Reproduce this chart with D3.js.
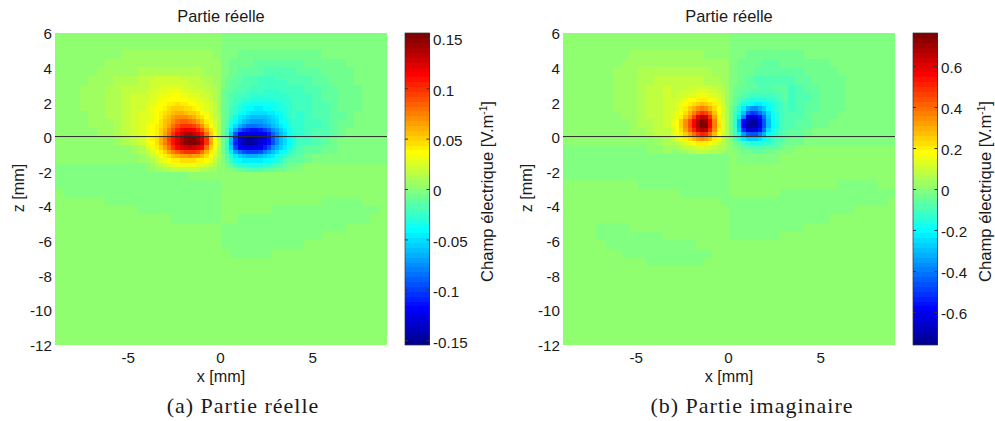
<!DOCTYPE html>
<html><head><meta charset="utf-8">
<script src="https://cdn.jsdelivr.net/npm/d3@7"></script>
<style>
html,body{margin:0;padding:0;background:#fff}
svg{display:block}
text{font-family:"Liberation Sans",Arial,sans-serif;fill:#1a1a1a}
.cap{font-family:"Liberation Serif",serif;font-size:22px;letter-spacing:1px}
</style></head><body>
<svg id="c" width="995" height="421"></svg>
<script>
// Axis content
const xTicks=[-5,0,5];
const zTicks=[6,4,2,0,-2,-4,-6,-8,-10,-12];
const aBarTicks=[0.15,0.1,0.05,0,-0.05,-0.1,-0.15];
const bBarTicks=[0.6,0.4,0.2,0,-0.2,-0.4,-0.6];
const aClim=0.1548, bClim=0.761;
const titles=["Partie réelle","Partie réelle"];
const captions=["(a) Partie réelle","(b) Partie imaginaire"];

// Field samples: values are colour-table steps (step = clim/32).
// Coarse grid: 40 columns from x=-9 mm every 0.45 mm, 36 rows from z=6 mm every 0.5 mm.
const coarseGrid={x0:-9,dx:0.45,z0:6,dz:0.5};
const aCoarse=[
[0,0,0,0,0,0,0,0,0,0,0,0,0,0,0,0,0,0,0,0,-1,-1,-1,-1,-1,-1,-1,-1,-1,-1,-1,-1,-1,-1,-1,-1,-1,-1,-1,-1],
[0,0,0,0,0,0,0,0,0,0,0,0,0,0,0,0,0,0,0,0,-1,-1,-1,-1,-1,-1,-1,-1,-1,-1,-1,-1,-1,-1,-1,-1,-1,-1,-1,-1],
[0,0,0,0,0,0,0,0,1,1,1,1,1,1,1,1,1,1,1,0,-1,-1,-2,-2,-2,-2,-2,-2,-2,-2,-2,-2,-1,-1,-1,-1,-1,-1,-1,-1],
[0,0,0,0,0,0,1,1,1,1,1,1,1,1,1,1,1,1,1,1,-1,-2,-2,-2,-3,-3,-3,-3,-3,-3,-2,-2,-2,-2,-2,-1,-1,-1,-1,-1],
[0,0,0,0,0,1,1,1,1,1,2,2,2,2,2,2,2,2,1,1,-1,-2,-3,-3,-3,-4,-4,-4,-4,-3,-3,-3,-2,-2,-2,-2,-1,-1,-1,-1],
[0,0,0,0,1,1,1,2,2,2,3,3,3,3,3,3,2,2,2,1,-2,-2,-3,-3,-4,-4,-5,-5,-4,-4,-4,-3,-3,-2,-2,-2,-1,-1,-1,-1],
[0,0,0,1,1,1,2,2,3,3,3,4,4,4,4,4,3,3,2,1,-2,-3,-3,-4,-4,-5,-5,-5,-5,-5,-4,-4,-3,-3,-2,-2,-2,-1,-1,-1],
[0,0,0,1,1,1,2,2,3,4,4,4,5,5,5,5,4,3,2,1,-2,-3,-4,-4,-5,-5,-6,-6,-6,-5,-5,-4,-3,-3,-2,-2,-2,-1,-1,-1],
[0,0,0,1,1,1,2,2,3,4,4,5,6,7,7,7,6,4,3,1,-2,-3,-4,-5,-6,-7,-8,-8,-8,-5,-5,-4,-4,-3,-2,-2,-2,-1,-1,-1],
[0,0,0,0,1,1,2,2,3,4,5,5,8,10,12,12,10,7,4,2,-2,-3,-5,-8,-10,-12,-12,-12,-10,-6,-5,-4,-4,-3,-3,-2,-1,-1,-1,-1],
[0,0,0,0,1,1,1,2,3,4,5,6,9,12,15,15,12,9,5,2,-2,-4,-8,-12,-16,-18,-18,-17,-12,-6,-5,-5,-4,-3,-2,-2,-1,-1,-1,-1],
[0,0,0,0,0,1,1,2,3,4,5,6,10,15,20,24,18,10,6,2,-2,-5,-12,-20,-25,-26,-25,-20,-14,-6,-5,-4,-4,-3,-2,-1,-1,-1,-1,-1],
[0,0,0,0,0,0,0,1,2,3,4,6,10,18,26,30,28,18,8,3,-3,-12,-26,-30,-31,-29,-27,-22,-14,-5,-5,-4,-3,-2,-1,-1,-1,-1,-1,-1],
[0,0,0,0,0,0,0,0,0,1,2,4,8,14,20,24,24,16,7,2,-3,-10,-22,-26,-27,-26,-22,-16,-10,-4,-3,-3,-2,-2,-1,-1,-1,-1,-1,-1],
[0,0,0,0,0,0,0,0,0,0,1,2,5,8,10,12,13,10,6,2,-1,-6,-12,-15,-16,-15,-12,-8,-6,-3,-2,-1,-1,-1,-1,-1,-1,-1,-1,-1],
[-1,-1,-1,-1,-1,-1,-1,-1,-1,-1,-1,2,4,5,6,6,6,4,3,1,-1,-2,-4,-6,-6,-6,-5,-3,-2,-1,0,0,0,0,0,0,0,0,0,0],
[-1,-1,-1,-1,-1,-1,-1,-1,-1,-1,-1,-1,-1,-1,-1,-1,0,0,0,0,0,0,0,0,0,0,0,0,0,0,0,0,0,0,0,0,0,0,0,0],
[-1,-1,-1,-1,-1,-1,-1,-1,-1,-1,-1,-1,-1,-1,-1,-1,-1,-1,-1,-1,0,0,0,0,0,0,0,0,0,0,0,0,0,0,0,0,0,0,0,0],
[0,-1,-1,-1,-1,-1,-1,-1,-1,-1,-1,-1,-1,-1,-1,-1,-1,-1,-1,-1,0,0,0,0,0,0,0,0,0,0,0,0,0,0,0,0,0,0,0,0],
[0,0,0,0,0,0,-1,-1,-1,-1,-1,-1,-1,-1,-1,-1,-1,-1,-1,-1,0,0,0,0,0,0,0,0,0,0,0,0,-1,-1,-1,-1,-1,0,0,0],
[0,0,0,0,0,0,0,0,0,0,-1,-1,-1,-1,-1,-1,-1,-1,-1,-1,0,0,0,0,0,0,-1,-1,-1,-1,-1,-1,-1,-1,-1,-1,-1,-1,-1,0],
[0,0,0,0,0,0,0,0,0,0,0,0,0,0,-1,-1,-1,-1,-1,-1,0,0,-1,-1,-1,-1,-1,-1,-1,-1,-1,-1,-1,-1,-1,-1,-1,-1,0,0],
[0,0,0,0,0,0,0,0,0,0,0,0,0,0,0,0,0,0,0,0,-1,-1,-1,-1,-1,-1,-1,-1,-1,-1,-1,-1,-1,-1,-1,0,0,0,0,0],
[0,0,0,0,0,0,0,0,0,0,0,0,0,0,0,0,0,0,0,0,-1,-1,-1,-1,-1,-1,-1,-1,-1,-1,-1,-1,0,0,0,0,0,0,0,0],
[0,0,0,0,0,0,0,0,0,0,0,0,0,0,0,0,0,0,0,0,-1,-1,-1,-1,-1,-1,-1,-1,-1,-1,0,0,0,0,0,0,0,0,0,0],
[0,0,0,0,0,0,0,0,0,0,0,0,0,0,0,0,0,0,0,0,0,-1,-1,-1,-1,-1,0,0,0,0,0,0,0,0,0,0,0,0,0,0],
[0,0,0,0,0,0,0,0,0,0,0,0,0,0,0,0,0,0,0,0,0,0,0,0,0,0,0,0,0,0,0,0,0,0,0,0,0,0,0,0],
[0,0,0,0,0,0,0,0,0,0,0,0,0,0,0,0,0,0,0,0,0,0,0,0,0,0,0,0,0,0,0,0,0,0,0,0,0,0,0,0],
[0,0,0,0,0,0,0,0,0,0,0,0,0,0,0,0,0,0,0,0,0,0,0,0,0,0,0,0,0,0,0,0,0,0,0,0,0,0,0,0],
[0,0,0,0,0,0,0,0,0,0,0,0,0,0,0,0,0,0,0,0,0,0,0,0,0,0,0,0,0,0,0,0,0,0,0,0,0,0,0,0],
[0,0,0,0,0,0,0,0,0,0,0,0,0,0,0,0,0,0,0,0,0,0,0,0,0,0,0,0,0,0,0,0,0,0,0,0,0,0,0,0],
[0,0,0,0,0,0,0,0,0,0,0,0,0,0,0,0,0,0,0,0,0,0,0,0,0,0,0,0,0,0,0,0,0,0,0,0,0,0,0,0],
[0,0,0,0,0,0,0,0,0,0,0,0,0,0,0,0,0,0,0,0,0,0,0,0,0,0,0,0,0,0,0,0,0,0,0,0,0,0,0,0],
[0,0,0,0,0,0,0,0,0,0,0,0,0,0,0,0,0,0,0,0,0,0,0,0,0,0,0,0,0,0,0,0,0,0,0,0,0,0,0,0],
[0,0,0,0,0,0,0,0,0,0,0,0,0,0,0,0,0,0,0,0,0,0,0,0,0,0,0,0,0,0,0,0,0,0,0,0,0,0,0,0],
[0,0,0,0,0,0,0,0,0,0,0,0,0,0,0,0,0,0,0,0,0,0,0,0,0,0,0,0,0,0,0,0,0,0,0,0,0,0,0,0]
];
const bCoarse=[
[0,0,0,0,0,0,0,0,0,0,0,0,0,0,0,0,0,0,0,0,-1,-1,-1,-1,-1,-1,-1,-1,-1,-1,-1,-1,-1,-1,-1,-1,-1,-1,-1,-1],
[0,0,0,0,0,0,0,0,0,0,0,0,0,0,0,0,0,0,0,0,-1,-1,-1,-1,-1,-1,-1,-1,-1,-1,-1,-1,-1,-1,-1,-1,-1,-1,-1,-1],
[0,0,0,0,0,0,0,0,1,1,1,1,1,1,1,1,1,0,0,0,-1,-1,-2,-2,-2,-2,-2,-2,-2,-1,-1,-1,-1,-1,-1,-1,-1,-1,-1,-1],
[0,0,0,0,0,0,0,1,1,1,1,1,1,1,1,1,1,1,1,1,-1,-2,-2,-2,-3,-3,-2,-2,-2,-2,-2,-2,-1,-1,-1,-1,-1,-1,-1,-1],
[0,0,0,0,0,0,1,1,1,2,2,2,2,2,2,2,2,2,1,1,-1,-2,-2,-3,-3,-3,-3,-3,-3,-2,-2,-2,-2,-1,-1,-1,-1,-1,-1,-1],
[0,0,0,0,0,0,1,1,1,2,2,3,3,3,3,3,3,2,2,1,-1,-2,-3,-4,-4,-4,-4,-4,-3,-3,-2,-2,-2,-2,-1,-1,-1,-1,-1,-1],
[0,0,0,0,0,0,1,1,1,2,3,3,4,4,4,4,4,3,2,1,-1,-2,-3,-4,-5,-5,-5,-5,-4,-3,-3,-2,-2,-2,-1,-1,-1,-1,-1,-1],
[0,0,0,0,0,0,1,1,1,2,3,3,4,5,6,6,5,4,3,1,-1,-3,-5,-6,-7,-6,-6,-5,-4,-4,-3,-2,-2,-2,-1,-1,-1,-1,-1,-1],
[0,0,0,0,0,0,1,1,1,2,3,3,4,7,9,10,9,6,4,1,-2,-3,-8,-10,-10,-9,-7,-5,-4,-3,-3,-2,-2,-2,-1,-1,-1,-1,-1,-1],
[0,0,0,0,0,0,0,1,1,2,3,3,4,8,14,20,18,8,4,2,-2,-5,-14,-20,-21,-15,-8,-4,-4,-3,-2,-2,-2,-1,-1,-1,-1,-1,-1,-1],
[0,0,0,0,0,0,0,0,1,2,2,3,4,8,18,30,28,10,5,2,-2,-5,-18,-30,-31,-20,-10,-4,-3,-3,-2,-2,-1,-1,-1,-1,-1,-1,-1,-1],
[0,0,0,0,0,0,0,0,1,1,2,3,3,7,13,21,20,8,4,2,-2,-4,-12,-19,-20,-14,-7,-3,-3,-2,-1,-1,-1,-1,-1,-1,-1,-1,-1,-1],
[0,0,0,0,0,0,0,0,0,0,0,1,2,4,6,9,8,5,3,1,-1,-3,-8,-12,-12,-9,-5,-2,-2,-1,-1,-1,-1,-1,-1,-1,-1,-1,-1,-1],
[-1,-1,-1,-1,-1,-1,-1,-1,-1,-1,0,0,1,2,3,4,4,3,2,1,-1,-2,-3,-4,-4,-3,-2,-1,0,0,0,0,0,0,0,0,0,0,0,0],
[-1,-1,-1,-1,-1,-1,-1,-1,-1,-1,-1,-1,-1,-1,-1,-1,-1,-1,-1,-1,0,-1,-1,-1,-1,-1,0,0,0,0,0,0,0,0,0,0,0,0,0,0],
[-1,-1,-1,-1,-1,-1,-1,-1,-1,-1,-1,-1,-1,-1,-1,-1,-1,-1,-1,-1,0,0,0,0,0,0,0,0,0,0,0,0,0,0,0,0,0,0,0,0],
[-1,-1,-1,-1,-1,-1,-1,-1,-1,-1,-1,-1,-1,-1,-1,-1,-1,-1,-1,-1,0,0,0,0,0,0,0,0,0,0,0,0,0,0,0,0,0,0,0,0],
[0,0,0,0,0,0,0,0,0,-1,-1,-1,-1,-1,-1,-1,-1,-1,-1,-1,0,0,0,0,0,0,0,0,0,0,0,0,0,-1,-1,-1,-1,-1,0,0],
[0,0,0,0,0,0,0,0,0,0,0,0,0,0,-1,-1,-1,-1,-1,-1,0,0,0,0,0,0,-1,-1,-1,-1,-1,-1,-1,-1,-1,-1,-1,-1,-1,-1],
[0,0,0,0,0,0,0,0,0,0,0,0,0,0,0,0,0,0,0,-1,-1,-1,-1,-1,-1,-1,-1,-1,-1,-1,-1,-1,-1,-1,-1,-1,-1,-1,-1,0],
[0,0,0,0,0,0,0,0,0,0,0,0,0,0,0,0,0,0,0,0,-1,-1,-1,-1,-1,-1,-1,-1,-1,-1,-1,-1,-1,-1,-1,0,0,0,0,0],
[0,0,0,0,0,0,0,0,0,0,0,0,0,0,0,0,0,0,0,0,-1,-1,-1,-1,-1,-1,-1,-1,-1,-1,-1,-1,0,0,0,0,0,0,0,0],
[0,0,0,0,-1,-1,-1,-1,0,0,0,0,0,0,0,0,0,0,0,0,-1,-1,-1,-1,-1,-1,-1,-1,-1,0,0,0,0,0,0,0,0,0,0,0],
[0,0,0,0,-1,-1,-1,-1,-1,-1,-1,-1,0,0,0,0,0,0,0,0,-1,-1,-1,-1,-1,-1,0,0,0,0,0,0,0,0,0,0,0,0,0,0],
[0,0,0,0,0,-1,-1,-1,-1,-1,-1,-1,-1,-1,-1,-1,0,0,0,0,0,0,0,0,0,0,0,0,0,0,0,0,0,0,0,0,0,0,0,0],
[0,0,0,0,0,0,0,-1,-1,-1,-1,-1,-1,-1,-1,-1,-1,-1,0,0,0,0,0,0,0,0,0,0,0,0,0,0,0,0,0,0,0,0,0,0],
[0,0,0,0,0,0,0,0,0,0,-1,-1,-1,-1,-1,-1,-1,0,0,0,0,0,0,0,0,0,0,0,0,0,0,0,0,0,0,0,0,0,0,0],
[0,0,0,0,0,0,0,0,0,0,0,0,0,0,0,0,0,0,0,0,0,0,0,0,0,0,0,0,0,0,0,0,0,0,0,0,0,0,0,0],
[0,0,0,0,0,0,0,0,0,0,0,0,0,0,0,0,0,0,0,0,0,0,0,0,0,0,0,0,0,0,0,0,0,0,0,0,0,0,0,0],
[0,0,0,0,0,0,0,0,0,0,0,0,0,0,0,0,0,0,0,0,0,0,0,0,0,0,0,0,0,0,0,0,0,0,0,0,0,0,0,0],
[0,0,0,0,0,0,0,0,0,0,0,0,0,0,0,0,0,0,0,0,0,0,0,0,0,0,0,0,0,0,0,0,0,0,0,0,0,0,0,0],
[0,0,0,0,0,0,0,0,0,0,0,0,0,0,0,0,0,0,0,0,0,0,0,0,0,0,0,0,0,0,0,0,0,0,0,0,0,0,0,0],
[0,0,0,0,0,0,0,0,0,0,0,0,0,0,0,0,0,0,0,0,0,0,0,0,0,0,0,0,0,0,0,0,0,0,0,0,0,0,0,0],
[0,0,0,0,0,0,0,0,0,0,0,0,0,0,0,0,0,0,0,0,0,0,0,0,0,0,0,0,0,0,0,0,0,0,0,0,0,0,0,0],
[0,0,0,0,0,0,0,0,0,0,0,0,0,0,0,0,0,0,0,0,0,0,0,0,0,0,0,0,0,0,0,0,0,0,0,0,0,0,0,0],
[0,0,0,0,0,0,0,0,0,0,0,0,0,0,0,0,0,0,0,0,0,0,0,0,0,0,0,0,0,0,0,0,0,0,0,0,0,0,0,0]
];
// Fine grids over the two lobes.
const aFineGrid={x0:-4.05,dx:0.225,z0:3.5,dz:0.25};
const aFine=[
[3,3,4,4,4,4,4,4,3,3,3,3,3,2,2,2,1,1,-1,-2,-2,-3,-3,-4,-4,-4,-4,-5,-5,-5,-5,-4,-4,-4,-4,-4],
[3,4,4,4,4,4,4,4,4,4,3,3,3,3,2,2,1,1,-1,-2,-3,-3,-3,-4,-4,-4,-4,-5,-5,-5,-5,-5,-5,-5,-4,-4],
[3,4,4,5,5,5,5,5,5,4,4,4,3,3,3,2,2,1,-1,-2,-3,-3,-4,-4,-4,-5,-5,-5,-5,-5,-5,-5,-5,-5,-5,-5],
[4,4,5,5,5,6,6,6,5,5,5,4,4,4,3,3,2,1,-2,-3,-3,-4,-4,-4,-5,-5,-5,-5,-6,-6,-6,-6,-5,-5,-5,-5],
[4,5,5,6,6,6,7,7,6,6,5,5,5,4,4,3,2,1,-2,-3,-4,-4,-5,-5,-5,-6,-6,-6,-6,-6,-6,-6,-6,-6,-5,-5],
[4,5,6,6,7,7,7,7,7,7,6,6,5,5,4,3,2,1,-2,-3,-4,-5,-5,-6,-6,-7,-7,-7,-7,-7,-7,-6,-6,-6,-6,-5],
[5,5,6,7,7,8,8,9,8,8,7,7,6,6,5,4,3,1,-2,-3,-4,-5,-6,-7,-7,-8,-8,-8,-8,-8,-8,-7,-7,-6,-6,-5],
[5,6,7,7,8,9,10,10,10,9,9,8,7,6,5,4,3,1,-2,-3,-5,-6,-7,-8,-9,-9,-10,-10,-9,-9,-8,-8,-7,-7,-6,-5],
[5,6,7,8,9,10,11,12,12,11,10,10,9,7,6,5,3,1,-2,-3,-5,-6,-8,-9,-10,-11,-11,-11,-11,-10,-10,-9,-8,-7,-6,-5],
[5,6,7,8,10,11,13,14,14,14,13,12,10,9,7,5,3,2,-2,-3,-6,-8,-10,-11,-12,-13,-13,-13,-13,-12,-11,-10,-9,-7,-6,-5],
[6,6,7,9,11,12,14,16,17,17,16,15,13,11,8,6,4,2,-2,-4,-7,-9,-11,-13,-14,-15,-15,-15,-14,-13,-12,-11,-9,-8,-7,-6],
[6,7,8,9,11,13,16,18,20,20,20,19,17,14,10,7,4,2,-2,-4,-8,-11,-14,-16,-18,-18,-18,-17,-16,-15,-13,-12,-10,-9,-7,-6],
[6,7,8,10,12,15,18,21,23,24,24,23,21,18,13,9,5,2,-2,-5,-10,-15,-19,-22,-23,-24,-24,-23,-21,-19,-16,-14,-12,-10,-8,-6],
[6,7,8,10,13,16,20,23,26,28,28,27,25,22,16,10,6,2,-2,-5,-12,-20,-25,-26,-27,-27,-27,-26,-25,-23,-19,-16,-13,-11,-8,-7],
[6,8,9,12,15,19,22,25,28,30,31,31,29,26,20,12,7,2,-2,-5,-13,-22,-27,-29,-31,-31,-30,-28,-26,-24,-20,-16,-13,-11,-9,-7],
[6,7,9,12,15,18,22,25,28,30,31,31,30,27,20,12,7,3,-2,-6,-14,-23,-27,-30,-31,-31,-30,-28,-26,-24,-20,-16,-13,-11,-9,-7],
[5,6,8,10,13,16,20,23,25,26,27,26,25,23,16,10,6,2,-2,-6,-12,-21,-25,-26,-27,-27,-26,-25,-23,-20,-16,-14,-12,-10,-8,-6],
[3,5,7,8,10,13,15,17,19,20,20,20,19,16,12,8,5,2,-2,-5,-10,-15,-18,-20,-21,-21,-21,-20,-17,-15,-13,-11,-9,-8,-6,-5],
[2,4,5,7,8,9,11,12,13,13,14,13,13,11,9,7,4,2,-1,-4,-7,-10,-12,-13,-14,-14,-14,-13,-12,-11,-10,-8,-7,-6,-5,-4],
[1,2,4,5,6,7,8,8,9,9,9,9,8,8,7,5,3,1,-1,-3,-6,-8,-9,-10,-10,-10,-10,-10,-9,-9,-8,-7,-6,-4,-3,-3],
[0,1,2,3,4,5,5,6,6,6,6,6,5,5,4,3,2,0,0,-2,-3,-5,-6,-6,-7,-7,-7,-7,-6,-6,-5,-4,-4,-3,-2,-2],
[0,0,1,1,2,2,3,3,3,3,3,3,3,2,2,1,1,0,0,-1,-1,-2,-3,-3,-4,-4,-4,-4,-3,-3,-3,-2,-2,-2,-1,-1]
];
const bFineGrid={x0:-3.15,dx:0.225,z0:3,dz:0.25};
const bFine=[
[3,3,3,3,4,4,4,4,4,4,3,3,2,1,-1,-2,-2,-3,-3,-3,-3,-4,-4,-4,-3,-3,-3,-3],
[3,3,4,4,4,4,5,5,5,4,4,3,2,1,-1,-2,-3,-3,-3,-4,-4,-4,-4,-4,-4,-4,-3,-3],
[3,4,4,4,5,5,6,6,6,5,5,4,3,1,-1,-2,-3,-4,-4,-5,-5,-5,-5,-5,-5,-4,-4,-3],
[4,4,5,6,7,7,8,8,8,7,6,5,3,1,-1,-3,-4,-5,-6,-7,-7,-7,-7,-6,-6,-5,-4,-3],
[4,5,6,7,8,9,10,11,10,9,8,5,4,1,-1,-3,-5,-7,-8,-9,-10,-10,-9,-8,-7,-6,-5,-4],
[4,5,6,8,10,12,14,15,14,12,9,7,4,2,-2,-4,-7,-10,-14,-16,-16,-14,-12,-9,-7,-6,-5,-4],
[5,6,7,9,12,15,18,20,19,16,11,7,4,2,-2,-5,-8,-13,-19,-22,-21,-18,-15,-11,-8,-7,-5,-4],
[5,6,8,11,14,19,24,27,26,20,13,8,4,2,-2,-5,-10,-17,-25,-28,-27,-24,-18,-12,-8,-7,-5,-4],
[6,7,10,14,18,23,28,31,30,23,15,8,5,2,-2,-6,-13,-25,-29,-31,-31,-26,-20,-13,-9,-7,-5,-4],
[6,7,10,14,18,23,28,31,31,23,15,9,5,2,-2,-6,-13,-25,-30,-31,-31,-26,-20,-13,-9,-7,-5,-4],
[5,7,9,13,17,21,26,28,27,21,14,8,5,2,-2,-5,-12,-22,-27,-28,-27,-24,-18,-11,-8,-6,-5,-4],
[5,6,8,10,13,16,19,21,20,16,11,7,4,2,-2,-5,-9,-15,-19,-20,-20,-17,-14,-9,-7,-6,-4,-3],
[3,5,6,8,9,11,13,14,13,11,8,6,3,1,-1,-4,-7,-10,-12,-12,-12,-11,-9,-7,-5,-4,-4,-3],
[2,3,4,5,6,7,8,8,8,7,5,4,2,1,-1,-2,-3,-5,-6,-7,-7,-7,-6,-6,-5,-4,-3,-2],
[1,1,2,3,3,4,4,5,4,4,3,2,2,1,0,-1,-2,-3,-3,-4,-4,-4,-4,-3,-3,-3,-2,-1],
[0,0,1,1,2,2,3,3,3,2,2,2,1,0,0,-1,-1,-2,-2,-2,-3,-3,-2,-2,-2,-1,-1,-1]
];

const svg=d3.select("#c");
const plotW=332,plotH=311.6,plotL=55,plotT=32.7;
const panels=[
 {dx:0,clim:aClim,ticks:aBarTicks,coarse:aCoarse,fine:aFine,fg:aFineGrid,title:titles[0],cap:captions[0],capX:243,labX:493},
 {dx:508,clim:bClim,ticks:bBarTicks,coarse:bCoarse,fine:bFine,fg:bFineGrid,title:titles[1],cap:captions[1],capX:244,labX:483}
];
const steps=d3.range(-32,32);
// 64-step jet colour table of the reference colour bar
function jetColor(step){
  const u=4*(step+33)/64, c=v=>255*Math.max(0,Math.min(1,1.5-Math.abs(u-v)));
  return d3.rgb(c(3),c(2),c(1)).formatHex();
}
panels.forEach(p=>{
  const g=svg.append("g").attr("transform",`translate(${p.dx},0)`);
  const x=d3.scaleLinear([-9,9],[plotL,plotL+plotW]);
  const z=d3.scaleLinear([6,-12],[plotT,plotT+plotH]);
  const color=d3.scaleQuantize().domain([-p.clim,p.clim]).range(steps.map(jetColor));
  const unit=p.clim/32;
  function layer(rows,grid){
    const cells=rows.flatMap((row,r)=>row.map((s,c)=>({r,c,v:(s+0.5)*unit})));
    g.append("g").attr("shape-rendering","crispEdges").selectAll("rect").data(cells).join("rect")
     .attr("x",d=>x(grid.x0+grid.dx*d.c))
     .attr("y",d=>z(grid.z0-grid.dz*d.r))
     .attr("width",d=>x(grid.x0+grid.dx*(d.c+1))-x(grid.x0+grid.dx*d.c)+0.4)
     .attr("height",d=>z(grid.z0-grid.dz*(d.r+1))-z(grid.z0-grid.dz*d.r)+0.4)
     .attr("fill",d=>color(d.v));
  }
  layer(p.coarse,coarseGrid);
  layer(p.fine,p.fg);
  // z = 0 line
  g.append("line").attr("x1",x(-9)).attr("x2",x(9)).attr("y1",z(0)).attr("y2",z(0))
   .attr("stroke","#2a2a2a").attr("stroke-width",1);
  // axes
  const ax=g.append("g").attr("transform",`translate(-1,${plotT+plotH+7})`)
    .call(d3.axisBottom(x).tickValues(xTicks).tickSize(0).tickPadding(0).tickFormat(d=>String(d)));
  ax.select(".domain").remove();
  ax.selectAll("text").attr("font-size",15.2).attr("dy","0.75em");
  const az=g.append("g").attr("transform",`translate(${plotL-3},1.3)`)
    .call(d3.axisLeft(z).tickValues(zTicks).tickSize(0).tickPadding(0).tickFormat(d=>String(d)));
  az.select(".domain").remove();
  az.selectAll("text").attr("font-size",15.2);
  // labels
  g.append("text").attr("x",221).attr("y",21.5).attr("text-anchor","middle").attr("font-size",16.4).text(p.title);
  g.append("text").attr("x",221).attr("y",381.5).attr("text-anchor","middle").attr("font-size",16.2).text("x [mm]");
  g.append("text").attr("transform","translate(23.5,188) rotate(-90)").attr("text-anchor","middle").attr("font-size",16.2).text("z [mm]");
  g.append("text").attr("class","cap").attr("x",p.capX).attr("y",412.5).attr("text-anchor","middle").text(p.cap);
  // colour bar
  const cbL=405,cbW=24.5,cbT=33,cbB=345;
  const cy=d3.scaleLinear([-p.clim,p.clim],[cbB,cbT]);
  g.append("g").attr("shape-rendering","crispEdges").selectAll("rect").data(steps).join("rect")
    .attr("x",cbL).attr("width",cbW)
    .attr("y",s=>cy((s+1)*unit)).attr("height",s=>cy(s*unit)-cy((s+1)*unit)+0.4)
    .attr("fill",s=>color((s+0.5)*unit));
  g.append("rect").attr("x",cbL).attr("y",cbT).attr("width",cbW).attr("height",cbB-cbT)
    .attr("fill","none").attr("stroke","#333").attr("stroke-width",0.7);
  const ar=g.append("g").attr("transform",`translate(${cbL+cbW},0)`)
    .call(d3.axisRight(cy).tickValues(p.ticks).tickSizeInner(-3).tickSizeOuter(0).tickPadding(3).tickFormat(d=>String(d)));
  ar.select(".domain").remove();
  ar.selectAll("line").attr("stroke","#333");
  ar.selectAll("text").attr("font-size",15.2).attr("x",3.5).attr("dy","0.45em");
  const al=g.append("g").attr("transform",`translate(${cbL},0)`)
    .call(d3.axisLeft(cy).tickValues(p.ticks).tickSizeInner(-3).tickSizeOuter(0).tickFormat(""));
  al.select(".domain").remove();
  al.selectAll("line").attr("stroke","#333");
  const lab=g.append("text").attr("transform",`translate(${p.labX},191.5) rotate(-90)`).attr("text-anchor","middle").attr("font-size",16.6);
  lab.append("tspan").text("Champ électrique [V.m");
  lab.append("tspan").attr("dy",-6).attr("font-size",10).text("-1");
  lab.append("tspan").attr("dy",6).text("]");
});
</script>
</body></html>
